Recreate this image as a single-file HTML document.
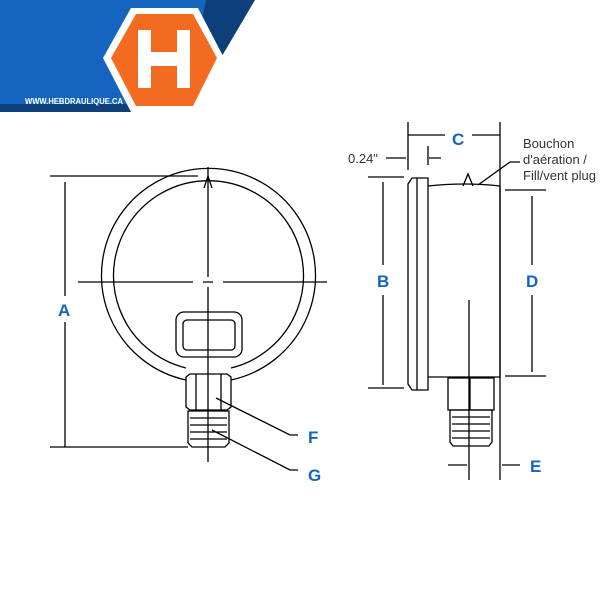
<!DOCTYPE html>
<html><head><style>
body{margin:0;width:600px;height:600px;background:#fff;overflow:hidden}
svg{display:block}
.l{fill:#1565c0;font:bold 17px "Liberation Sans",sans-serif}
.s{fill:#333;font:13px "Liberation Sans",sans-serif}
</style></head><body>
<svg width="600" height="600" viewBox="0 0 600 600">
<polygon points="0,0 212,0 170,112 0,112" fill="#1565c0"/>
<polygon points="206,0 255,0 222,56 200,30" fill="#0d3f7a"/>
<polygon points="0,104 135,104 138,112 0,112" fill="#0d3f7a"/>
<polygon points="131,8 198,8 224,58 198,112 131,112 103,58" fill="#fff"/>
<polygon points="136,14 193,14 217,58 193,106 136,106 111,58" fill="#f26b21"/>
<path d="M138,30h13v22h26v-22h13v58h-13v-22h-26v22h-13z" fill="#fff"/>
<text x="25" y="104" fill="#fff" font-family="Liberation Sans,sans-serif" font-size="8" font-weight="bold" textLength="98" lengthAdjust="spacingAndGlyphs">WWW.HEBDRAULIQUE.CA</text>
<g fill="none" stroke="#000" stroke-width="1.3">
<path d="M186,380 A107,107 0 1 1 231,380"/>
<path d="M186,368 A95,95 0 1 1 231,368"/>
<path d="M204,188 L208,176 L212,188"/>
<rect x="176" y="312" width="66" height="45" rx="8"/>
<rect x="183" y="320" width="52" height="30" rx="4"/>
<path d="M186,377 l4,-3 h37 l4,3 v30 l-4,3 h-37 l-4,-3z"/>
<path d="M196,374 v36 M221,374 v36"/>
<path d="M188,411 h41 v32 l-4,4 h-33 l-4,-4z"/>
<path d="M190,418 h37 M190,425 h37 M190,432 h37 M190,439 h37"/>
<path d="M208,167 V277 M208,287 V462 M78,282 H193 M203,282 H213 M223,282 H327"/>
<path d="M50,176 H198 M65,182 V296 M65,322 V447 M50,447 H188"/>
<path d="M216,398 L290,435 H298 M212,430 L290,470 H298"/>
<path d="M412,178 H428 V390 H412 L408,384 V184z"/>
<path d="M417,178 V390"/>
<path d="M428,186 Q465,182 500,186 V377 H428"/>
<path d="M463,186 L468,174 L473,186"/>
<path d="M448,378 h46 v32 h-46z M470,378 v32"/>
<path d="M450,410 h42 v32 l-3,4 h-36 l-3,-4z"/>
<path d="M452,417 h38 M452,424 h38 M452,431 h38 M452,438 h38"/>
<path d="M469,300 V480 M500,122 V480 M408,122 V170 M428,146 V165"/>
<path d="M408,135 H445 M472,135 H500 M386,158 H406 M429,158 H441"/>
<path d="M368,177 H404 M383,182 V265 M383,295 V385 M368,388 H404"/>
<path d="M505,190 H546 M532,196 V265 M532,295 V372 M505,376 H546"/>
<path d="M448,465 H467 M502,465 H520 M478,185 L510,162 H520"/>
</g>
<text class="l" x="58" y="316">A</text>
<text class="l" x="377" y="287">B</text>
<text class="l" x="452" y="145">C</text>
<text class="l" x="526" y="287">D</text>
<text class="l" x="530" y="472">E</text>
<text class="l" x="308" y="443">F</text>
<text class="l" x="308" y="481">G</text>
<text class="s" x="348" y="163">0.24"</text>
<text class="s" x="523" y="148">Bouchon</text>
<text class="s" x="523" y="164">d'aération /</text>
<text class="s" x="523" y="180" font-style="italic">Fill/vent plug</text>
</svg>
</body></html>
